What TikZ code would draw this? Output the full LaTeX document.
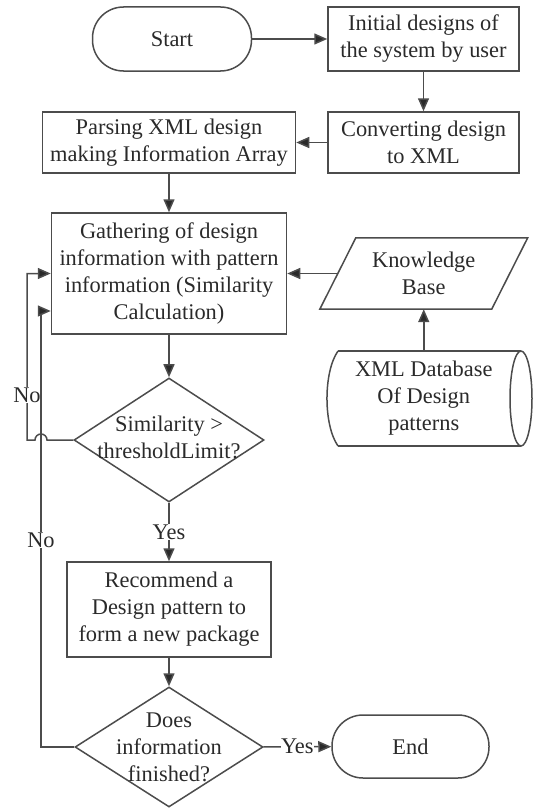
\documentclass[tikz,border=0pt]{standalone}
\usepackage{fontspec}
\setmainfont{Liberation Serif}
\usetikzlibrary{arrows.meta,shapes.geometric}
\definecolor{ln}{HTML}{4C4C4C}
\definecolor{tx}{HTML}{2A2A2A}
\begin{document}
\begin{tikzpicture}[x=1pt,y=-1pt,
  font=\fontsize{22.4}{27}\selectfont,
  every node/.style={text=tx},
  line/.style={draw=ln, line width=1.5pt},
  arr/.style={line, -{Triangle[length=13pt,width=11pt,fill=tx]}},
  box/.style={line, rectangle, align=center, inner sep=0pt},
  term/.style={line, rectangle, rounded corners=31pt, inner sep=0pt},
  dia/.style={line, diamond, inner sep=0pt},
  lbl/.style={fill=white, inner sep=0.5pt},
]
\useasboundingbox (0,0) rectangle (540,808);

% nodes
\node[term, minimum width=159pt, minimum height=64pt] (start) at (172,39) {Start};
\node[box, minimum width=191pt, minimum height=64pt] (init) at (423.5,39) {Initial designs of\\the system by user};
\node[box, minimum width=191pt, minimum height=61pt] (conv) at (423.5,142.5) {Converting design\\to XML};
\node[box, minimum width=253pt, minimum height=61pt] (pars) at (169,142.5) {Parsing XML design\\making Information Array};
\node[box, minimum width=235pt, minimum height=121pt] (gath) at (169,273.5) {Gathering of design\\information with pattern\\information (Similarity\\Calculation)};

% knowledge base (parallelogram)
\node[minimum width=171.5pt, minimum height=71pt, inner sep=0pt, align=center] (kb) at (423.75,273.5) {Knowledge\\Base};
\draw[line] ([xshift=18pt]kb.north west) -- ([xshift=18pt]kb.north east) -- ([xshift=-18pt]kb.south east) -- ([xshift=-18pt]kb.south west) -- cycle;

% database (horizontal cylinder)
\node[minimum height=95pt, inner sep=0pt, align=center] (db) at (423.75,398.5) {XML Database\\Of Design\\patterns};
\draw[line] (338,351) -- (521,351);
\draw[line] (338,446) -- (521,446);
\draw[line] (338,351) .. controls (323.3,372) and (323.3,425) .. (338,446);
\draw[line] (521,398.5) ellipse [x radius=11pt, y radius=47.5pt];

% decisions
\node[dia, minimum width=190pt, minimum height=124pt] (sim) at (169,440) {};
\node[align=center, inner sep=0pt] (simt) at (169,437) {Similarity >\\thresholdLimit?};
\node[box, minimum width=204pt, minimum height=95pt] (rec) at (169,609.5) {Recommend a\\Design pattern to\\form a new package};
\node[dia, minimum width=188pt, minimum height=120pt] (does) at (169,747) {};
\node[align=center, inner sep=0pt] (doest) at (169,747) {Does\\information\\finished?};
\node[term, minimum width=157pt, minimum height=63pt] (end) at (410.5,746.5) {End};

% connectors
\draw[arr] (start) -- (init);
\draw[arr] (init) -- (conv);
\draw[arr] (conv) -- (pars);
\draw[arr] (pars) -- (gath);
\draw[arr] (kb) -- (gath);
\draw[arr] (db) -- (kb);
\draw[arr] (gath) -- (sim);
\draw[arr] (sim) -- node[lbl]{Yes} (rec);
\draw[arr] (rec) -- (does);
\draw[arr] (does) -- node[lbl]{Yes} (end);

\coordinate (h1) at (47,440);
\coordinate (n1) at (27,440);
\coordinate (n2) at (27,273.5);
\draw[arr] (sim.west) -- (h1) arc[start angle=0, end angle=180, radius=6pt] -- (n1) -- node[lbl, pos=0.27]{No} (n2) -- (gath.west);

\coordinate (m1) at (41,747);
\coordinate (m2) at (41,311);
\draw[arr] (does.west) -- (m1) -- node[lbl, pos=0.475]{No} (m2) -- (gath.west |- m2);
\end{tikzpicture}
\end{document}
